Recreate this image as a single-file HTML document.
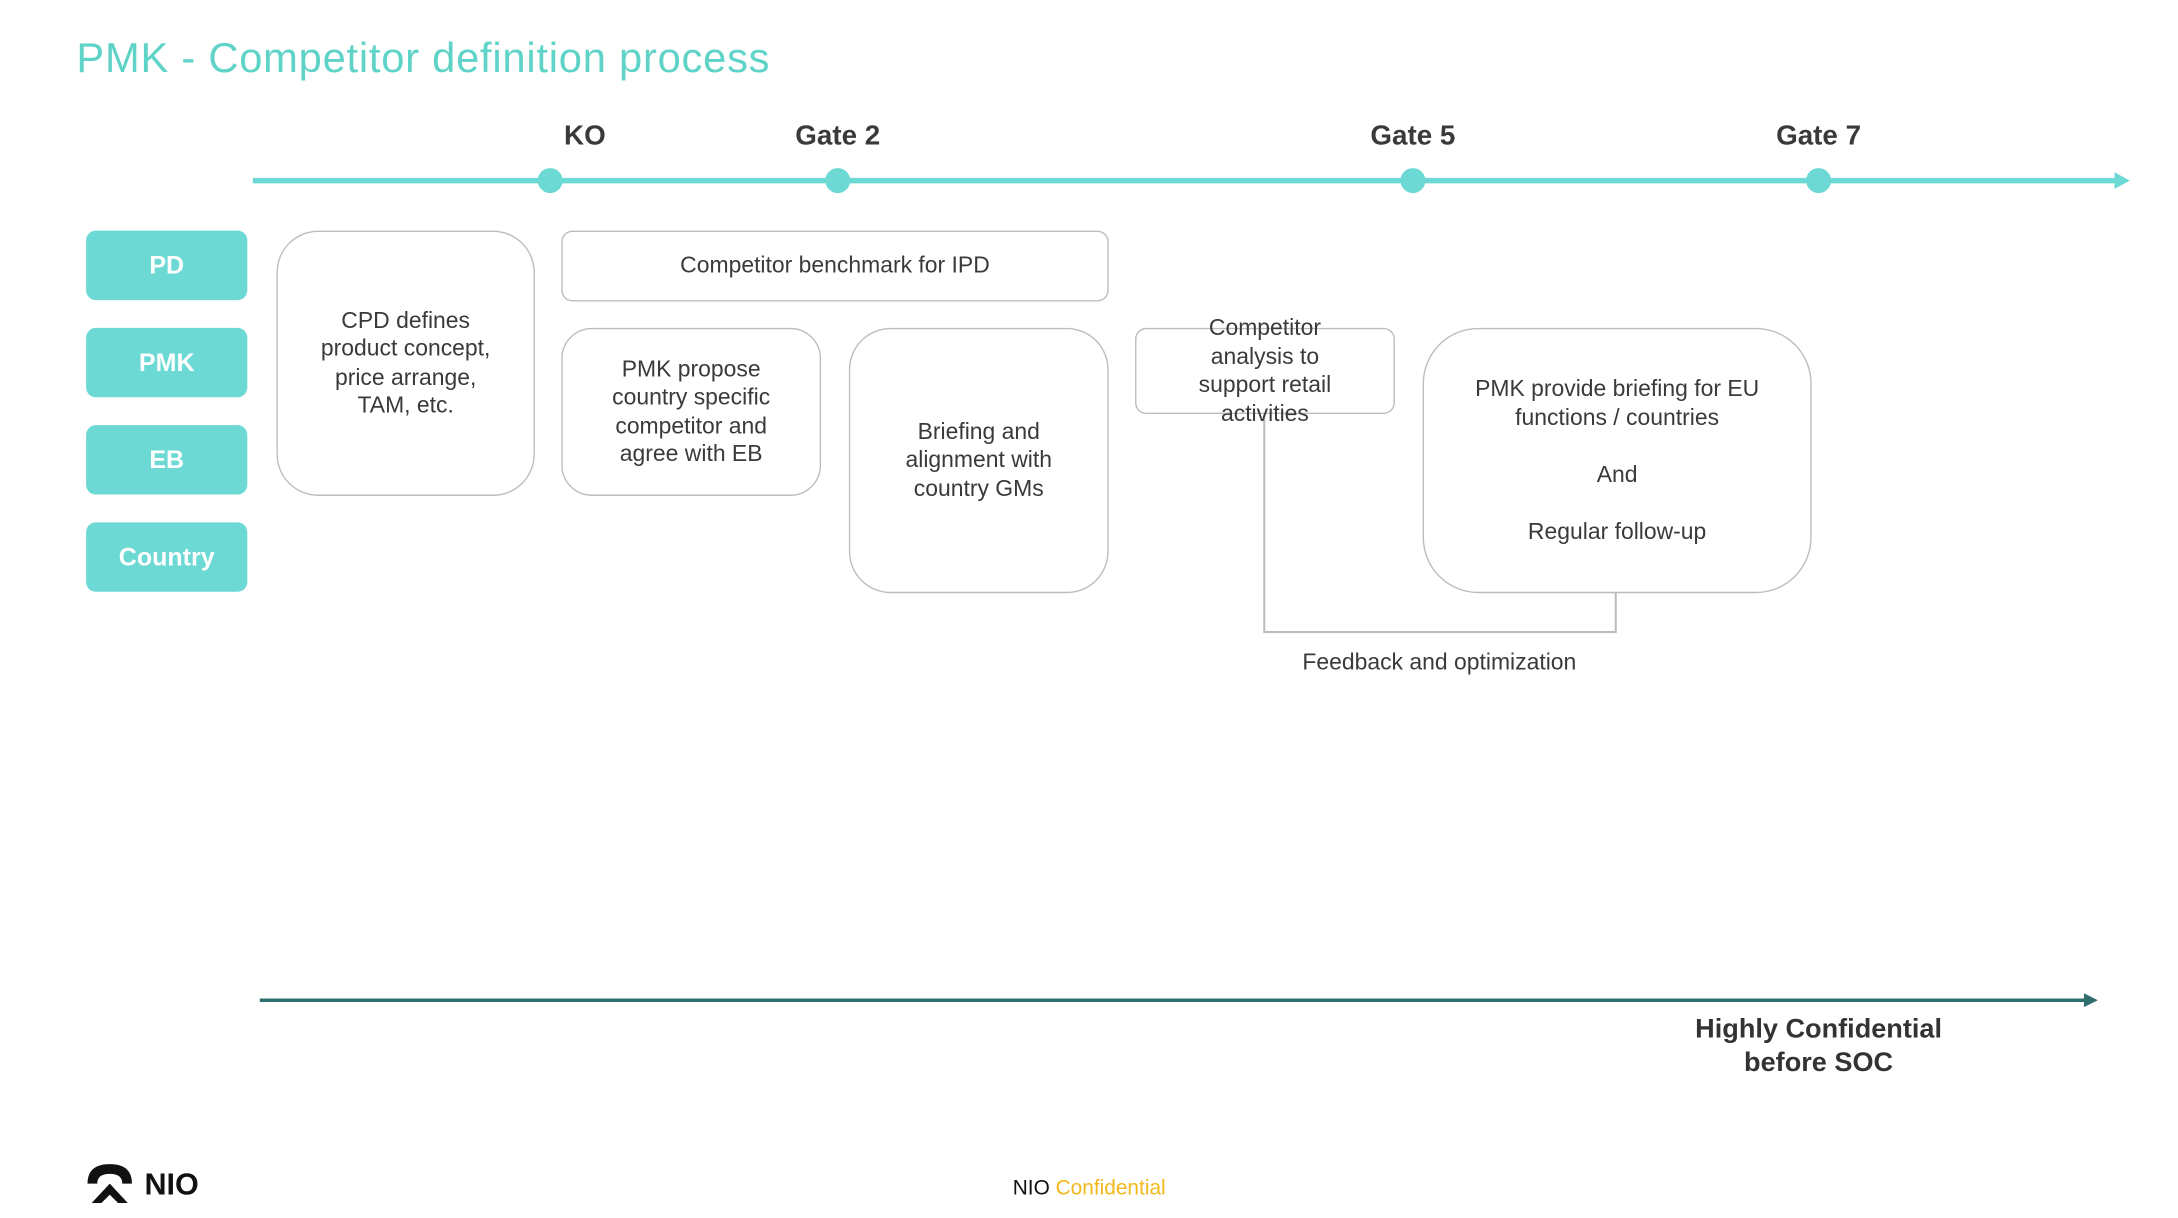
<!DOCTYPE html>
<html><head><meta charset="utf-8"><style>
html,body{margin:0;padding:0;background:#fff;}
body{width:2178px;height:1218px;overflow:hidden;position:relative;}
#w{position:absolute;left:0;top:0;width:1570px;height:877px;transform:scale(1.3893,1.3892);transform-origin:0 0;font-family:"Liberation Sans",sans-serif;color:#333;}
.a{position:absolute;}
.lab{position:absolute;left:62px;width:116px;height:50px;background:#6dd9d4;border-radius:7px;color:#fff;font-weight:bold;font-size:18px;display:flex;align-items:center;justify-content:center;}
.box{position:absolute;border:1.5px solid #bdbdbd;box-sizing:border-box;display:flex;align-items:center;justify-content:center;text-align:center;font-size:16.5px;line-height:20.5px;color:#3a3a3a;}
.g{position:absolute;top:87px;font-weight:bold;font-size:20px;color:#3a3a3a;transform:translateX(-50%);white-space:nowrap;}
</style></head><body><div id="w">
<div class="a" style="left:55px;top:26px;font-size:30px;letter-spacing:0.55px;color:#5fd3c7;">PMK - Competitor definition process</div>
<svg class="a" style="left:0;top:0" width="1570" height="877">
<line x1="182" y1="130" x2="1524" y2="130" stroke="#6dd9d4" stroke-width="4"/>
<polygon points="1522,124 1533,130 1522,136" fill="#6dd9d4"/>
<circle cx="396" cy="130" r="9" fill="#6dd9d4"/>
<circle cx="603" cy="130" r="9" fill="#6dd9d4"/>
<circle cx="1017" cy="130" r="9" fill="#6dd9d4"/>
<circle cx="1309" cy="130" r="9" fill="#6dd9d4"/>
<polyline points="910,297 910,455 1163,455 1163,426" fill="none" stroke="#bdbdbd" stroke-width="1.5"/>
<line x1="187" y1="720" x2="1502" y2="720" stroke="#2e6f6d" stroke-width="2.5"/>
<polygon points="1500,715 1510,720 1500,725" fill="#2e6f6d"/>
<g fill="#111"><path d="M63,852 Q63,838 79,838 Q95,838 95,852 L88,852 Q88,845 79,845 Q70,845 70,852 Z"/><path d="M66,866 L79,852 L92,866 L85,866 L79,860 L73,866 Z"/></g>
</svg>
<div class="g" style="left:421px">KO</div>
<div class="g" style="left:603px">Gate 2</div>
<div class="g" style="left:1017px">Gate 5</div>
<div class="g" style="left:1309px">Gate 7</div>
<div class="lab" style="top:166px">PD</div>
<div class="lab" style="top:236px">PMK</div>
<div class="lab" style="top:306px">EB</div>
<div class="lab" style="top:376px">Country</div>
<div class="box" style="left:199px;top:166px;width:186px;height:191px;border-radius:30px;">CPD defines<br>product concept,<br>price arrange,<br>TAM, etc.</div>
<div class="box" style="left:404px;top:166px;width:394px;height:51px;border-radius:8px;">Competitor benchmark for IPD</div>
<div class="box" style="left:404px;top:236px;width:187px;height:121px;border-radius:22px;">PMK propose<br>country specific<br>competitor and<br>agree with EB</div>
<div class="box" style="left:611px;top:236px;width:187px;height:191px;border-radius:30px;">Briefing and<br>alignment with<br>country GMs</div>
<div class="box" style="left:817px;top:236px;width:187px;height:62px;border-radius:8px;overflow:visible;">Competitor<br>analysis to<br>support retail<br>activities</div>
<div class="box" style="left:1024px;top:236px;width:280px;height:191px;border-radius:40px;">PMK provide briefing for EU<br>functions / countries<br><br>And<br><br>Regular follow-up</div>
<div class="a" style="left:1036px;top:468px;transform:translateX(-50%);font-size:16.5px;white-space:nowrap;color:#3a3a3a;">Feedback and optimization</div>
<div class="a" style="left:1309px;top:729px;transform:translateX(-50%);font-size:19.5px;font-weight:bold;line-height:24px;text-align:center;white-space:nowrap;color:#333;">Highly Confidential<br>before SOC</div>
<div class="a" style="left:104px;top:840px;font-size:22px;font-weight:bold;color:#111;">NIO</div>
<div class="a" style="left:784px;top:847px;transform:translateX(-50%);font-size:15px;white-space:nowrap;color:#111;">NIO <span style="color:#f2b81c">Confidential</span></div>
</div></body></html>
